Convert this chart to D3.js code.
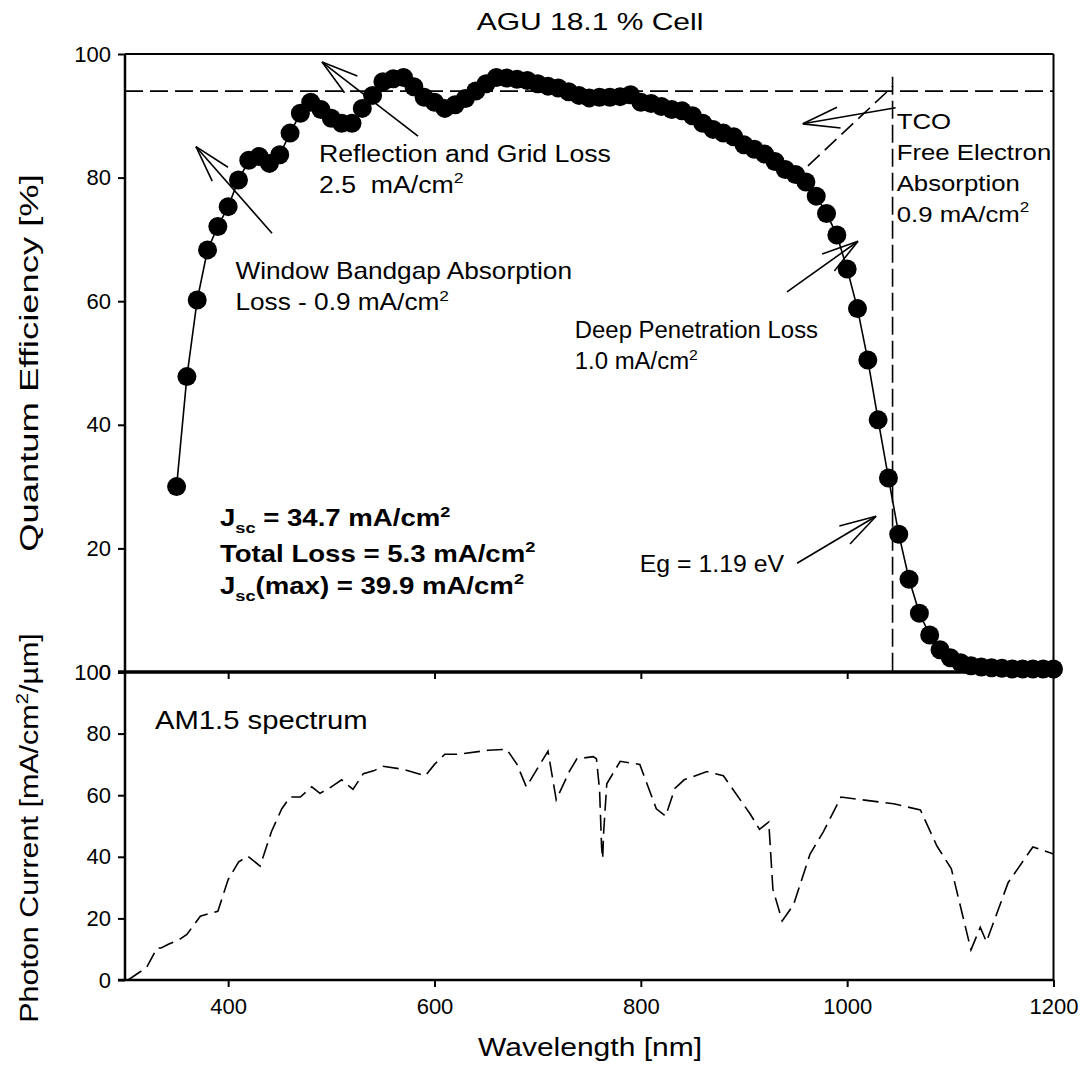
<!DOCTYPE html>
<html><head><meta charset="utf-8">
<script src="https://cdn.jsdelivr.net/npm/d3@7"></script>
<style>body{margin:0;background:#fff}</style>
</head><body>
<svg id="c" width="1090" height="1088"></svg>
<script>
// ---------- DATA ----------
const qeWavelength = [350,360,370,380,390,400,410,420,430,440,450,460,470,480,490,500,510,520,530,540,550,560,570,580,590,600,610,620,630,640,650,660,670,680,690,700,710,720,730,740,750,760,770,780,790,800,810,820,830,840,850,860,870,880,890,900,910,920,930,940,950,960,970,980,990,1000,1010,1020,1030,1040,1050,1060,1070,1080,1090,1100,1110,1120,1130,1140,1150,1160,1170,1180,1190,1200];
const qeValue = [30.0,47.8,60.2,68.3,72.1,75.3,79.6,82.8,83.4,82.3,83.7,87.2,90.4,92.2,91.0,89.6,88.8,88.8,91.2,93.3,95.5,96.0,96.2,94.7,93.0,92.2,91.2,91.8,92.8,94.0,95.2,96.2,96.1,95.9,95.7,95.2,94.8,94.5,93.9,93.3,92.9,93.0,93.0,93.1,93.4,92.2,92.0,91.5,91.0,90.8,90.0,88.8,87.8,87.2,86.6,85.3,84.6,83.8,82.6,81.3,80.5,79.3,77.0,74.2,70.7,65.2,58.8,50.5,40.8,31.4,22.3,15.0,9.5,6.0,3.6,2.3,1.5,1.0,0.8,0.7,0.6,0.5,0.5,0.5,0.5,0.5];
const specWavelength = [303,321,331,335,342,352,360,373,382,390,400,410,419,431,442,452,460,470,481,489,500,510,521,531,541,550,570,591,600,610,623,652,670,680,689,710,718,731,738,754,757,760,762,763,764,767,780,799,815,824,833,842,864,880,906,915,924,928,937,948,964,977,994,1045,1071,1087,1101,1120,1129,1135,1156,1180,1200];
const specValue = [0,4.1,10.4,10.4,11.6,13,14.8,20.7,21.6,22.3,32.6,38.3,40.2,37,48.2,55.6,59.4,59.4,62.7,60.6,62.7,65,61.9,67,67.9,69.4,68.4,66.3,70,73.3,73.3,74.6,74.9,70,62.7,74.3,58.5,67.9,71.8,72.5,71.8,61.7,43,39.4,48.2,63.7,71,70,55.6,53.2,62.2,65,67.7,66.3,53.9,48.9,51.3,29.5,19.2,24.4,40.9,48.2,59.4,57.2,55.2,43.5,36.1,9.8,17.1,12.4,31.6,43.2,40.9];
const xTicks = [400,600,800,1000,1200];
const qeTicks = [0,20,40,60,80,100];
const pcTicks = [0,20,40,60,80,100];
const maxQE = 94;          // horizontal dashed reference
const egWavelength = 1044; // Eg = 1.19 eV (as drawn)
// annotation arrows [tailλ, tailQE, tipλ, tipQE]
const arrows = [[442.5,71.0,368.8,85.0],[584,86.7,491,98.7],[1047,91.3,957,88.7],[941.7,61.5,1010.5,69.7],[951.4,17.6,1028,25.2]];
const tcoDash = [962,81.9,1044.4,94.8];

// ---------- SETUP ----------
const svg = d3.select("#c");
const FONT = "'Liberation Sans', Arial, Helvetica, sans-serif";
const X = d3.scaleLinear().domain([300,1200]).range([125,1053.5]);
const YQ = d3.scaleLinear().domain([0,100]).range([672,54]);
const YP = d3.scaleLinear().domain([0,100]).range([980,672]);

function label(x, y, parts, o = {}) {
  const sz = o.size || 23;
  const g = svg.append("g").attr("transform", `translate(${x},${y})${o.rot ? " rotate(-90)" : ""} scale(${o.sx || 1},1)`);
  const t = g.append("text").attr("font-family", FONT).attr("font-size", sz)
    .attr("font-weight", o.bold ? "bold" : "normal").attr("text-anchor", o.anchor || "start")
    .attr("fill", "#000").style("white-space", "pre");
  let shift = 0;
  parts.forEach(p => {
    const [s, type] = Array.isArray(p) ? p : [p, "n"];
    let target = type === "sup" ? -sz * 0.42 : type === "sub" ? sz * 0.3 : 0;
    const ts = t.append("tspan").text(s).attr("dy", target - shift);
    if (type !== "n") ts.attr("font-size", sz * 0.66);
    shift = target;
  });
}

// ---------- AXES ----------
function styleAxis(g) {
  g.select(".domain").remove();
  g.selectAll(".tick line").attr("stroke", "#000").attr("stroke-width", 2);
  g.selectAll(".tick text").attr("font-family", FONT).attr("font-size", 22).attr("fill", "#000");
}
svg.append("g").attr("transform", "translate(125,0)")
  .call(d3.axisLeft(YQ).tickValues(qeTicks).tickSize(7).tickPadding(7)).call(styleAxis);
svg.append("g").attr("transform", "translate(125,0)")
  .call(d3.axisLeft(YP).tickValues(pcTicks).tickSize(7).tickPadding(7)).call(styleAxis);
svg.append("g").attr("transform", "translate(0,672)")
  .call(d3.axisBottom(X).tickValues(xTicks).tickSize(7).tickFormat("")).call(styleAxis);
svg.append("g").attr("transform", "translate(0,980)")
  .call(d3.axisBottom(X).tickValues(xTicks).tickSize(7).tickPadding(11).tickFormat(d3.format("d"))).call(styleAxis);

// frame
const frame = svg.append("g").attr("stroke", "#000").attr("fill", "none");
frame.append("line").attr("x1", X(300)).attr("x2", X(300)).attr("y1", YQ(100)).attr("y2", YP(0)).attr("stroke-width", 2.5);
frame.append("line").attr("x1", X(1200)).attr("x2", X(1200)).attr("y1", YQ(100)).attr("y2", YP(0)).attr("stroke-width", 2);
frame.append("line").attr("x1", X(300)).attr("x2", X(1200)).attr("y1", YQ(100)).attr("y2", YQ(100)).attr("stroke-width", 2);
frame.append("line").attr("x1", X(300) - 7).attr("x2", X(1200)).attr("y1", YQ(0)).attr("y2", YQ(0)).attr("stroke-width", 3.5);
frame.append("line").attr("x1", X(300) - 7).attr("x2", X(1200)).attr("y1", YP(0)).attr("y2", YP(0)).attr("stroke-width", 2.5);

// ---------- REFERENCE LINES ----------
svg.append("line").attr("x1", X(300)).attr("x2", X(1200)).attr("y1", YQ(maxQE)).attr("y2", YQ(maxQE))
  .attr("stroke", "#000").attr("stroke-width", 1.6).attr("stroke-dasharray", "18,7");
svg.append("line").attr("x1", X(egWavelength)).attr("x2", X(egWavelength)).attr("y1", YQ(96.3)).attr("y2", YQ(0))
  .attr("stroke", "#000").attr("stroke-width", 1.6).attr("stroke-dasharray", "18,6");
svg.append("line").attr("x1", X(tcoDash[0])).attr("y1", YQ(tcoDash[1])).attr("x2", X(tcoDash[2])).attr("y2", YQ(tcoDash[3]))
  .attr("stroke", "#000").attr("stroke-width", 1.6).attr("stroke-dasharray", "16,7");

// ---------- QE SERIES ----------
const qe = qeWavelength.map((w, i) => [w, qeValue[i]]);
svg.append("path").datum(qe).attr("fill", "none").attr("stroke", "#000").attr("stroke-width", 1.6)
  .attr("d", d3.line().x(d => X(d[0])).y(d => YQ(d[1])));
svg.append("g").selectAll("circle").data(qe).join("circle")
  .attr("cx", d => X(d[0])).attr("cy", d => YQ(d[1])).attr("r", 9.5).attr("fill", "#000");

// ---------- SPECTRUM ----------
const sp = specWavelength.map((w, i) => [w, specValue[i]]);
svg.append("path").datum(sp).attr("fill", "none").attr("stroke", "#000").attr("stroke-width", 1.6)
  .attr("stroke-dasharray", "16,7")
  .attr("d", d3.line().x(d => X(d[0])).y(d => YP(d[1])));

// ---------- ARROWS ----------
arrows.forEach(a => {
  const x1 = X(a[0]), y1 = YQ(a[1]), x2 = X(a[2]), y2 = YQ(a[3]);
  const ang = Math.atan2(y1 - y2, x1 - x2), L = 38, da = 16 * Math.PI / 180;
  const g = svg.append("g").attr("stroke", "#000").attr("stroke-width", 1.6).attr("fill", "none");
  g.append("line").attr("x1", x1).attr("y1", y1).attr("x2", x2).attr("y2", y2);
  [-da, da].forEach(d => g.append("line").attr("x1", x2).attr("y1", y2)
    .attr("x2", x2 + L * Math.cos(ang + d)).attr("y2", y2 + L * Math.sin(ang + d)));
});

// ---------- TEXT ----------
label(590, 30, ["AGU 18.1 % Cell"], {size: 24, anchor: "middle", sx: 1.25});
label(X(488), YQ(82.5), ["Reflection and Grid Loss"], {sx: 1.16});
label(X(488), YQ(77.5), ["2.5  mA/cm", ["2", "sup"]], {sx: 1.16});
label(X(407), YQ(63.6), ["Window Bandgap Absorption"], {sx: 1.14});
label(X(407), YQ(58.5), ["Loss - 0.9 mA/cm", ["2", "sup"]], {sx: 1.14});
label(X(736), YQ(54), ["Deep Penetration Loss"], {sx: 1.04});
label(X(736), YQ(49), ["1.0 mA/cm", ["2", "sup"]], {sx: 1.04});
label(X(1048), YQ(87.8), ["TCO"], {sx: 1.12});
label(X(1048), YQ(82.8), ["Free Electron"], {sx: 1.12});
label(X(1048), YQ(77.8), ["Absorption"], {sx: 1.12});
label(X(1048), YQ(72.8), ["0.9 mA/cm", ["2", "sup"]], {sx: 1.12});
label(X(799), YQ(16.2), ["Eg = 1.19 eV"], {sx: 1.08});
label(X(392), YQ(23.6), ["J", ["sc", "sub"], " = 34.7 mA/cm", ["2", "sup"]], {size: 23, bold: true, sx: 1.2});
label(X(392), YQ(17.8), ["Total Loss = 5.3 mA/cm", ["2", "sup"]], {size: 23, bold: true, sx: 1.2});
label(X(392), YQ(12.6), ["J", ["sc", "sub"], "(max) = 39.9 mA/cm", ["2", "sup"]], {size: 23, bold: true, sx: 1.2});
label(X(329), YP(81.5), ["AM1.5 spectrum"], {size: 25, sx: 1.17});
label(590, 1056, ["Wavelength [nm]"], {size: 25, anchor: "middle", sx: 1.2});
label(38, (YQ(0) + YQ(100)) / 2, ["Quantum Efficiency [%]"], {size: 26, anchor: "middle", rot: true, sx: 1.4});
label(38, (YP(0) + YP(100)) / 2 + 2, ["Photon Current [mA/cm", ["2", "sup"], "/\u00b5m]"], {size: 25, anchor: "middle", rot: true, sx: 1.22});
</script>
</body></html>
